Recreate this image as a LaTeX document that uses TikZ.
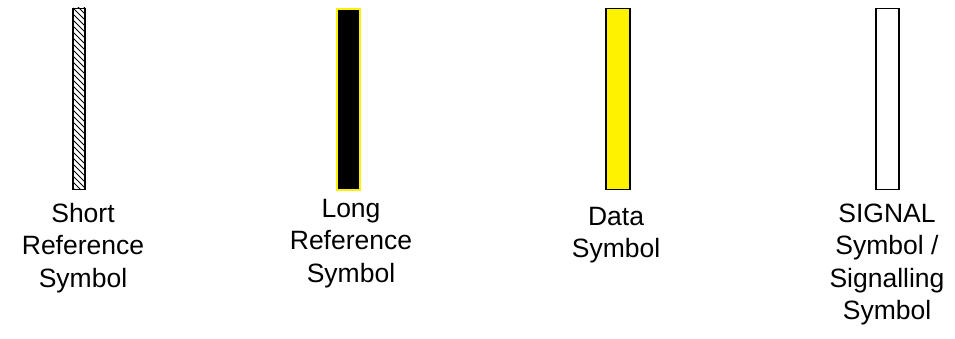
\documentclass[tikz,border=0pt]{standalone}
\usepackage{fontspec}
\setmainfont{Liberation Sans}
\usetikzlibrary{positioning}

\begin{document}
\begin{tikzpicture}[x=1pt,y=-1pt,font=\fontsize{26.5}{32.5}\selectfont,
  symbar/.style={draw,line width=1.2pt,minimum height=181pt,anchor=north,inner sep=0pt},
  symlabel/.style={align=center,anchor=base,inner sep=0pt}]
\useasboundingbox (0,0) rectangle (955,339);
% the four symbol bars
\node[symbar,minimum width=12pt,fill=white] (shortref) at (79,8) {};
\begin{scope}
\clip (73,8) rectangle (85,189);
\foreach \y in {-4,2,...,194}{\draw[line width=.8pt] (73,\y) -- (85,\y+12);}
\end{scope}
\node[symbar,minimum width=12pt] at (79,8) {};
\node[symbar,minimum width=23pt,fill=black,draw=yellow,line width=1.8pt] (longref) at (348.5,8) {};
\node[symbar,minimum width=24pt,fill=yellow] (datasym) at (618,8) {};
\node[symbar,minimum width=23pt,fill=white] (sigsym) at (887.5,8) {};
% labels under the bars (base = last line)
\node[symlabel] (shortlbl) at (83,287) {Short\\Reference\\Symbol};
\node[symlabel] (longlbl) at (351,282) {Long\\Reference\\Symbol};
\node[symlabel] (datalbl) at (616,257.5) {Data\\Symbol};
\node[symlabel] (siglbl) at (887,319.5) {SIGNAL\\Symbol /\\Signalling\\Symbol};
\end{tikzpicture}
\end{document}
